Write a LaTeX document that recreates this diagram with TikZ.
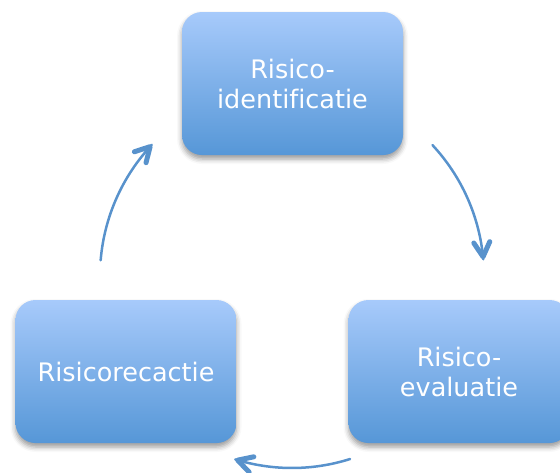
\documentclass[tikz,border=0pt]{standalone}
\usepackage{fontspec}
\setmainfont{DejaVu Sans}[Ligatures=NoCommon]
\usetikzlibrary{arrows.meta,shadows.blur,calc,decorations.markings}
\definecolor{boxtop}{RGB}{167,202,251}
\definecolor{boxbot}{RGB}{86,151,215}
\definecolor{arrowblue}{RGB}{88,146,204}
\begin{document}
\begin{tikzpicture}[x=1pt,y=-1pt,
  stepbox/.style={rounded corners=20pt, top color=boxtop, bottom color=boxbot, draw=none,
    minimum width=221pt, minimum height=143pt, inner sep=0pt, text=white,
    font=\fontsize{25.5}{30}\selectfont, align=center,
    blur shadow={shadow xshift=0pt, shadow yshift=-4pt, shadow blur radius=5pt, shadow opacity=40}},
  cyc/.style={draw=arrowblue, line width=2.5pt, line cap=round,
    postaction={decorate},
    decoration={markings, mark=at position 1 with {
      \draw[arrowblue, line width=5pt, line cap=round, line join=round]
        (-17pt,8pt) -- (-2.5pt,0pt) -- (-17pt,-8pt);}}}]
\useasboundingbox (0,0) rectangle (560,472);
\clip (0,0) rectangle (560,472);
\node[stepbox] (ident) at (292.5,83.5) {Risico-\\identificatie};
\node[stepbox] (react) at (126,371.5) {Risicorecactie};
\node[stepbox] (eval) at (459,371.5) {Risico-\\evaluatie};
\coordinate (O) at (292,276);
\coordinate (a1) at ($(O)+(-43:192)$);
\coordinate (a2) at ($(O)+(72.4:192)$);
\coordinate (a3) at ($(O)+(184.7:192)$);
\draw[cyc] (a1) arc[start angle=-43, end angle=-5, radius=192];
\draw[cyc] (a2) arc[start angle=72.4, end angle=107.2, radius=192];
\draw[cyc] (a3) arc[start angle=184.7, end angle=223.1, radius=192];
\end{tikzpicture}
\end{document}
